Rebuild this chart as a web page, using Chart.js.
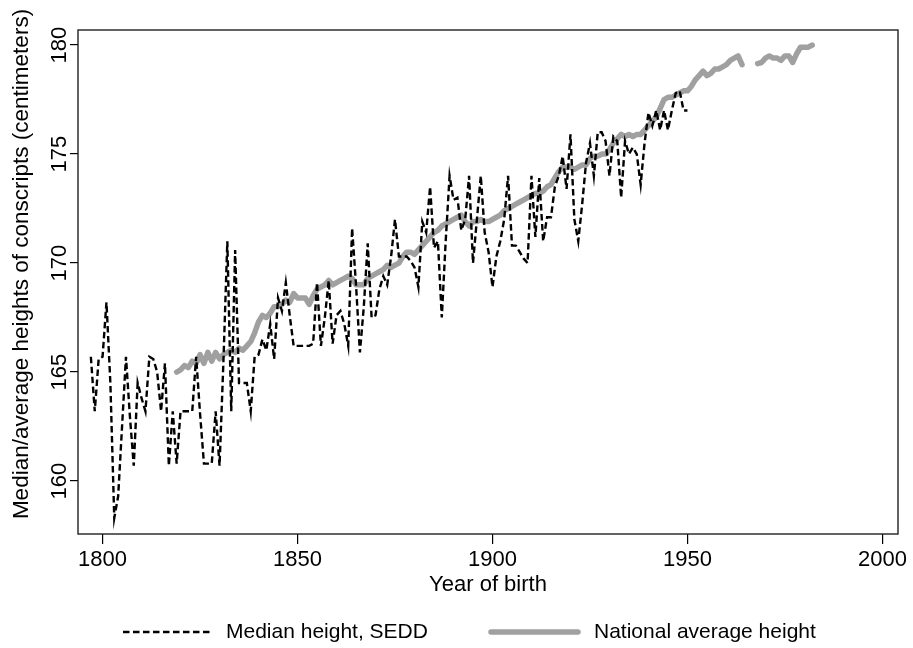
<!DOCTYPE html>
<html>
<head>
<meta charset="utf-8">
<script src="https://cdn.jsdelivr.net/npm/chart.js@4.4.0/dist/chart.umd.min.js"></script>
<style>
html,body{margin:0;padding:0;background:#fff;overflow:hidden}
</style>
</head>
<body>
<canvas id="heightChart" width="913" height="648"></canvas>
<script>
// median height of conscripts (SEDD), one value per birth year from 1797
const medianStartYear = 1797;
const medianHeights = [
  165.7, 163.2, 165.6,                                                   // 1797-1799
  165.7, 168.2, 164.5, 158.3, 159.3, 162.5, 165.7, 163.0, 160.7, 164.5,  // 1800s
  163.8, 163.2, 165.7, 165.6, 165.0, 163.2, 165.4, 160.7, 163.2, 160.8,  // 1810s
  163.2, 163.2, 163.2, 163.2, 165.7, 163.1, 160.8, 160.8, 160.8, 163.2,  // 1820s
  160.7, 165.5, 171.0, 163.2, 170.6, 164.5, 164.5, 164.5, 163.2, 165.7,  // 1830s
  165.8, 166.5, 166.0, 167.2, 165.6, 168.4, 167.8, 169.1, 167.6, 166.2,  // 1840s
  166.2, 166.2, 166.2, 166.2, 166.3, 169.1, 166.2, 167.5, 169.2, 166.3,  // 1850s
  167.6, 167.8, 167.2, 166.2, 171.6, 169.0, 165.9, 168.0, 170.9, 167.5,  // 1860s
  167.6, 168.8, 169.4, 169.0, 170.3, 172.0, 170.3, 170.3, 170.3, 170.1,  // 1870s
  169.8, 168.9, 171.9, 171.4, 173.5, 170.7, 171.0, 167.5, 171.0, 174.0,  // 1880s
  172.9, 173.0, 171.5, 172.0, 174.0, 170.0, 172.0, 174.0, 171.4, 170.5,  // 1890s
  168.9, 170.3, 171.0, 172.0, 174.0, 170.8, 170.8, 170.5, 170.2, 170.0,  // 1900s
  174.0, 171.2, 173.9, 171.0, 172.1, 172.1, 173.5, 174.0, 174.9, 173.4,  // 1910s
  175.9, 172.0, 171.0, 172.7, 174.6, 175.5, 174.0, 176.0, 176.0, 175.6,  // 1920s
  174.0, 175.8, 175.6, 173.0, 175.6, 175.0, 175.3, 175.0, 173.6, 175.5,  // 1930s
  176.9, 176.3, 177.0, 176.1, 177.0, 176.1, 177.0, 177.8, 177.9, 177.0,  // 1940s
  177.0                                                                  // 1950
];

// national average height, 1819-1964 and 1968-1982
const nationalStartYear = 1819;
const nationalHeights = [
  165.0,                                                                 // 1819
  165.1, 165.3, 165.2, 165.5, 165.4, 165.8, 165.4, 165.9, 165.5, 165.9,  // 1820s
  165.6, 165.8, 165.9, 166.0, 165.9, 166.1, 166.0, 166.2, 166.4, 166.8,  // 1830s
  167.3, 167.6, 167.5, 167.7, 168.0, 168.0, 168.1, 168.3, 168.2, 168.6,  // 1840s
  168.4, 168.4, 168.4, 168.1, 168.5, 168.8, 168.9, 169.0, 169.2, 169.0,  // 1850s
  169.1, 169.2, 169.3, 169.4, 169.3, 169.0, 169.0, 169.0, 169.3, 169.4,  // 1860s
  169.5, 169.6, 169.7, 169.9, 169.8, 169.9, 170.0, 170.3, 170.5, 170.5,  // 1870s
  170.4, 170.6, 170.8, 171.0, 171.2, 171.4, 171.5, 171.7, 171.8, 171.9,  // 1880s
  172.0, 172.1, 172.2, 171.9, 171.7, 171.9, 171.9, 172.0, 171.9, 171.9,  // 1890s
  172.0, 172.1, 172.2, 172.4, 172.5, 172.6, 172.7, 172.8, 172.9, 173.0,  // 1900s
  173.1, 173.2, 173.2, 173.3, 173.5, 173.6, 173.9, 174.2, 174.4, 174.4,  // 1910s
  174.4, 174.3, 174.4, 174.5, 174.5, 174.8, 174.9, 174.9, 175.0, 175.0,  // 1920s
  175.2, 175.5, 175.7, 175.9, 175.8, 175.9, 175.8, 175.9, 175.9, 176.1,  // 1930s
  176.3, 176.5, 176.7, 177.1, 177.5, 177.6, 177.6, 177.7, 177.8, 177.9,  // 1940s
  177.9, 178.1, 178.4, 178.6, 178.8, 178.6, 178.7, 178.9, 178.9, 179.0,  // 1950s
  179.1, 179.3, 179.4, 179.5, 179.1                                      // 1960-1964
];
const nationalLateStartYear = 1968;
const nationalLateHeights = [
  179.15, 179.2,                                                         // 1968-1969
  179.4, 179.5, 179.4, 179.4, 179.3, 179.5, 179.5, 179.2, 179.6, 179.9,  // 1970s
  179.9, 179.9, 180.0                                                    // 1980-1982
];

const xTicks = [1800, 1850, 1900, 1950, 2000];
const yTicks = [160, 165, 170, 175, 180];
const seriesLabels = ['Median height, SEDD', 'National average height'];
const xTitle = 'Year of birth';
const yTitle = 'Median/average heights of conscripts (centimeters)';

const FONT = '"Liberation Sans", Arial, Helvetica, sans-serif';

const medianPoints = medianHeights.map((v, i) => ({x: medianStartYear + i, y: v}));
const nationalPoints = nationalHeights.map((v, i) => ({x: nationalStartYear + i, y: v}))
  .concat([{x: nationalStartYear + nationalHeights.length, y: null}])
  .concat(nationalLateHeights.map((v, i) => ({x: nationalLateStartYear + i, y: v})));

// frame, rotated y labels, y title and legend
const stataDecor = {
  id: 'stataDecor',
  afterDraw(chart) {
    const ctx = chart.ctx;
    const a = chart.chartArea;
    const ys = chart.scales.y;
    ctx.save();
    ctx.strokeStyle = '#222';
    ctx.lineWidth = 1.4;
    ctx.strokeRect(a.left, a.top, a.right - a.left, a.bottom - a.top);

    ctx.fillStyle = '#000';
    ctx.font = '22px ' + FONT;
    ctx.textAlign = 'center';
    ctx.textBaseline = 'middle';
    yTicks.forEach(v => {
      ctx.save();
      ctx.translate(60, ys.getPixelForValue(v));
      ctx.rotate(-Math.PI / 2);
      ctx.fillText(String(v), 0, 0);
      ctx.restore();
    });

    ctx.save();
    ctx.translate(22, 264);
    ctx.rotate(-Math.PI / 2);
    ctx.font = '22.5px ' + FONT;
    ctx.fillText(yTitle, 0, 0);
    ctx.restore();

    // legend
    const ds = chart.data.datasets;
    ctx.font = '21px ' + FONT;
    const sample = 87, gap = 16;
    const starts = [123, 491];
    const ly = 632;
    starts.forEach((x, i) => {
      ctx.save();
      ctx.strokeStyle = ds[i].borderColor;
      ctx.lineWidth = ds[i].borderWidth;
      ctx.lineCap = ds[i].borderCapStyle;
      ctx.setLineDash(ds[i].borderDash || []);
      ctx.beginPath();
      ctx.moveTo(x, ly);
      ctx.lineTo(x + sample, ly);
      ctx.stroke();
      ctx.restore();
      ctx.textAlign = 'left';
      ctx.fillText(seriesLabels[i], x + sample + gap, ly);
    });
    ctx.restore();
  }
};

new Chart(document.getElementById('heightChart'), {
  type: 'line',
  data: {
    datasets: [
      {
        label: seriesLabels[0],
        data: medianPoints,
        borderColor: '#000',
        borderWidth: 2.4,
        borderDash: [6.5, 3.5],
        borderCapStyle: 'butt',
        pointRadius: 0,
        tension: 0,
        fill: false
      },
      {
        label: seriesLabels[1],
        data: nationalPoints,
        borderColor: '#a0a0a0',
        borderWidth: 5.5,
        borderCapStyle: 'round',
        borderJoinStyle: 'round',
        pointRadius: 0,
        tension: 0,
        spanGaps: false,
        fill: false
      }
    ]
  },
  options: {
    responsive: false,
    animation: false,
    layout: {padding: {top: 30, right: 15, bottom: 41, left: 0}},
    plugins: {legend: {display: false}, tooltip: {enabled: false}},
    scales: {
      x: {
        type: 'linear',
        min: 1793.7,
        max: 2004,
        afterBuildTicks: s => { s.ticks = xTicks.map(v => ({value: v})); },
        afterFit: s => { s.height = 73; },
        border: {display: false},
        grid: {drawOnChartArea: false, drawTicks: true, tickLength: 10, color: '#000', lineWidth: 1.2},
        ticks: {
          color: '#000',
          font: {family: FONT, size: 22},
          padding: 3,
          maxRotation: 0,
          autoSkip: false,
          callback: v => String(v)
        },
        title: {
          display: true,
          text: xTitle,
          color: '#000',
          font: {family: FONT, size: 22},
          padding: {top: 0, bottom: 8.8}
        }
      },
      y: {
        type: 'linear',
        min: 157.57,
        max: 180.69,
        afterBuildTicks: s => { s.ticks = yTicks.map(v => ({value: v})); },
        afterFit: s => { s.width = 78; },
        border: {display: false},
        grid: {drawOnChartArea: false, drawTicks: true, tickLength: 8, color: '#000', lineWidth: 1.2},
        ticks: {display: false}
      }
    }
  },
  plugins: [stataDecor]
});
</script>
</body>
</html>
